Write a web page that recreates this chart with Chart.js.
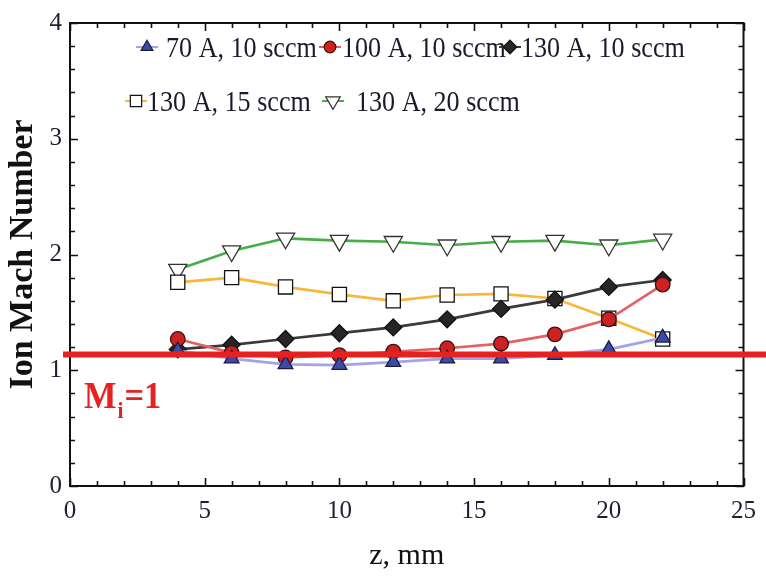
<!DOCTYPE html>
<html>
<head>
<meta charset="utf-8">
<script src="https://cdn.jsdelivr.net/npm/chart.js@4/dist/chart.umd.min.js"></script>
<style>
  html, body { margin: 0; padding: 0; background: #fff; }
  #wrap { width: 766px; height: 577px; position: relative; }
</style>
</head>
<body>
<div id="wrap"><canvas id="c" width="766" height="577"></canvas></div>
<script>
// Axial positions (mm)
const zPositions = [4, 6, 8, 10, 12, 14, 16, 18, 20, 22];

// Ion Mach number for each discharge condition
const mach70A10 = [1.17, 1.10, 1.05, 1.045, 1.07, 1.10, 1.10, 1.13, 1.18, 1.28];
const mach100A10 = [1.27, 1.15, 1.11, 1.13, 1.16, 1.19, 1.23, 1.31, 1.44, 1.74];
const mach130A10 = [1.18, 1.22, 1.27, 1.32, 1.37, 1.44, 1.53, 1.61, 1.72, 1.78];
const mach130A15 = [1.76, 1.80, 1.72, 1.655, 1.60, 1.65, 1.66, 1.62, 1.45, 1.27];
const mach130A20 = [1.87, 2.03, 2.14, 2.12, 2.11, 2.08, 2.11, 2.12, 2.08, 2.13];

const seriesLabels = ['70 A, 10 sccm', '100 A, 10 sccm', '130 A, 10 sccm', '130 A, 15 sccm', '130 A, 20 sccm'];

// Axis tick labels (major ticks only)
const xTickLabels = [0, 5, 10, 15, 20, 25];
const yTickLabels = [0, 1, 2, 3, 4];

// Sonic reference line
const sonicLevel = 1.136;
const sonicText = { main: 'M', sub: 'i', tail: '=1' };

const SERIF = '"Liberation Serif", "Times New Roman", serif';

function isNear(v, list) { return list.some(t => Math.abs(t - v) < 1e-6); }

function series(label, values, style) {
  return Object.assign({
    label,
    data: zPositions.map((z, i) => ({ x: z, y: values[i] })),
    showLine: true,
    borderWidth: 2.7,
    pointBorderWidth: 1.3,
    tension: 0
  }, style);
}

const styles = [
  { borderColor: '#a3a3e6', pointBackgroundColor: '#3d4aa6', pointBorderColor: '#1c1c40', pointStyle: 'triangle', pointRadius: 8.5, pointRotation: 0 },
  { borderColor: '#e06262', pointBackgroundColor: '#cc2222', pointBorderColor: '#3a1010', pointStyle: 'circle', pointRadius: 7.3, pointRotation: 0 },
  { borderColor: '#3a3a3a', pointBackgroundColor: '#262626', pointBorderColor: '#111', pointStyle: 'rectRot', pointRadius: 8.5, pointRotation: 0 },
  { borderColor: '#f9b73a', pointBackgroundColor: '#ffffff', pointBorderColor: '#111', pointStyle: 'rect', pointRadius: 10, pointRotation: 0 },
  { borderColor: '#47ad47', pointBackgroundColor: '#ffffff', pointBorderColor: '#333', pointStyle: 'triangle', pointRadius: 10.5, pointRotation: 180 }
];

const allValues = [mach70A10, mach100A10, mach130A10, mach130A15, mach130A20];
const datasets = allValues.map((vals, i) => series(seriesLabels[i], vals, styles[i]));

// Draw one marker shape (used by the in-plot legend)
function drawMarker(ctx, st, x, y, r) {
  ctx.save();
  ctx.translate(x, y);
  ctx.rotate((st.pointRotation || 0) * Math.PI / 180);
  ctx.beginPath();
  if (st.pointStyle === 'circle') {
    ctx.arc(0, 0, r, 0, Math.PI * 2);
  } else if (st.pointStyle === 'triangle') {
    for (let k = 0; k < 3; k++) {
      const a = k * 2 * Math.PI / 3;
      const px = Math.sin(a) * r, py = -Math.cos(a) * r;
      k === 0 ? ctx.moveTo(px, py) : ctx.lineTo(px, py);
    }
  } else if (st.pointStyle === 'rect') {
    const s = Math.SQRT1_2 * r;
    ctx.rect(-s, -s, 2 * s, 2 * s);
  } else if (st.pointStyle === 'rectRot') {
    ctx.moveTo(0, -r); ctx.lineTo(r, 0); ctx.lineTo(0, r); ctx.lineTo(-r, 0);
  }
  ctx.closePath();
  ctx.fillStyle = st.pointBackgroundColor;
  ctx.fill();
  ctx.lineWidth = 1.2;
  ctx.strokeStyle = st.pointBorderColor;
  ctx.stroke();
  ctx.restore();
}

// Narrow, tall serif text: draw at a larger size and squeeze horizontally
function condensedText(ctx, text, x, y, size, weight, squeeze) {
  ctx.save();
  ctx.translate(x, y);
  ctx.scale(squeeze, 1);
  ctx.font = (weight ? weight + ' ' : '') + size + 'px ' + SERIF;
  ctx.fillText(text, 0, 0);
  const w = ctx.measureText(text).width * squeeze;
  ctx.restore();
  return w;
}

// Inward ticks on all four sides plus the box frame
const frameTicks = {
  id: 'frameTicks',
  afterDatasetsDraw(chart) {
    const { ctx, chartArea: a, scales: { x, y } } = chart;
    ctx.save();
    ctx.strokeStyle = '#111';
    ctx.lineWidth = 1.6;
    ctx.beginPath();
    x.ticks.forEach(t => {
      const px = Math.round(x.getPixelForValue(t.value)) + 0.5;
      const len = isNear(t.value, xTickLabels) ? 8 : 5;
      ctx.moveTo(px, a.bottom); ctx.lineTo(px, a.bottom - len);
      ctx.moveTo(px, a.top); ctx.lineTo(px, a.top + len);
    });
    y.ticks.forEach(t => {
      const py = Math.round(y.getPixelForValue(t.value)) + 0.5;
      const len = isNear(t.value, yTickLabels) ? 8 : 5;
      ctx.moveTo(a.left, py); ctx.lineTo(a.left + len, py);
      ctx.moveTo(a.right, py); ctx.lineTo(a.right - len, py);
    });
    ctx.stroke();
    ctx.lineWidth = 2;
    ctx.strokeRect(a.left, a.top, a.right - a.left, a.bottom - a.top);
    ctx.restore();
  }
};

// Legend inside the plot, two rows
const legendSlots = [
  { marker: 147, text: 166, row: 0 },
  { marker: 330, text: 342, row: 0 },
  { marker: 510, text: 521, row: 0 },
  { marker: 136, text: 147, row: 1 },
  { marker: 333, text: 356, row: 1 }
];
const legendRows = [47, 101];

const insideLegend = {
  id: 'insideLegend',
  afterDraw(chart) {
    const { ctx } = chart;
    ctx.save();
    legendSlots.forEach((slot, i) => {
      const st = styles[i];
      const yy = legendRows[slot.row];
      ctx.strokeStyle = st.borderColor;
      ctx.lineWidth = 2;
      ctx.beginPath();
      ctx.moveTo(slot.marker - 11, yy); ctx.lineTo(slot.marker + 11, yy);
      ctx.stroke();
      drawMarker(ctx, st, slot.marker, yy, st.pointRadius * 0.8);
      ctx.fillStyle = '#1a1a2e';
      ctx.textBaseline = 'alphabetic';
      ctx.textAlign = 'left';
      condensedText(ctx, seriesLabels[i], slot.text, yy + 10, 29, '', 0.9);
    });
    ctx.restore();
  }
};

// Horizontal sonic line with its label
const sonicLine = {
  id: 'sonicLine',
  afterDraw(chart) {
    const { ctx, scales: { y } } = chart;
    const py = y.getPixelForValue(sonicLevel);
    ctx.save();
    ctx.strokeStyle = '#e8201f';
    ctx.lineWidth = 6;
    ctx.beginPath();
    ctx.moveTo(63, py); ctx.lineTo(chart.width, py);
    ctx.stroke();

    ctx.fillStyle = '#e8201f';
    ctx.textBaseline = 'alphabetic';
    ctx.textAlign = 'left';
    let tx = 84;
    const base = py + 53;
    tx += condensedText(ctx, sonicText.main, tx, base, 37, 'bold', 0.93);
    tx += condensedText(ctx, sonicText.sub, tx + 1, base + 10, 23, 'bold', 0.93) + 2;
    condensedText(ctx, sonicText.tail, tx, base, 37, 'bold', 0.93);
    ctx.restore();
  }
};

new Chart(document.getElementById('c'), {
  type: 'line',
  data: { datasets },
  options: {
    responsive: false,
    devicePixelRatio: 1,
    animation: false,
    layout: { padding: { left: 0, right: 14, top: 14, bottom: 0 } },
    plugins: { legend: { display: false }, tooltip: { enabled: false } },
    scales: {
      x: {
        type: 'linear',
        min: 0, max: 25,
        grid: { display: false, drawTicks: false },
        border: { display: false },
        ticks: {
          stepSize: 1,
          autoSkip: false,
          maxRotation: 0,
          padding: 10,
          color: '#1f1f33',
          font: { family: SERIF, size: 25 },
          callback: v => isNear(v, xTickLabels) ? String(Math.round(v)) : ''
        },
        title: {
          display: true,
          text: 'z, mm',
          color: '#111',
          font: { family: SERIF, size: 30 },
          padding: { top: 0, bottom: 3 }
        },
        afterFit: s => { s.height = 91; }
      },
      y: {
        type: 'linear',
        min: 0, max: 4,
        grid: { display: false, drawTicks: false },
        border: { display: false },
        ticks: {
          stepSize: 0.2,
          autoSkip: false,
          padding: 8,
          color: '#1f1f33',
          font: { family: SERIF, size: 25 },
          callback: v => isNear(v, yTickLabels) ? String(Math.round(v)) : ''
        },
        title: {
          display: true,
          text: 'Ion Mach Number',
          color: '#111',
          font: { family: SERIF, size: 34, weight: 'bold' },
          padding: { top: 3, bottom: 0 }
        },
        afterFit: s => { s.width = 70; }
      }
    }
  },
  plugins: [frameTicks, insideLegend, sonicLine]
});
</script>
</body>
</html>
